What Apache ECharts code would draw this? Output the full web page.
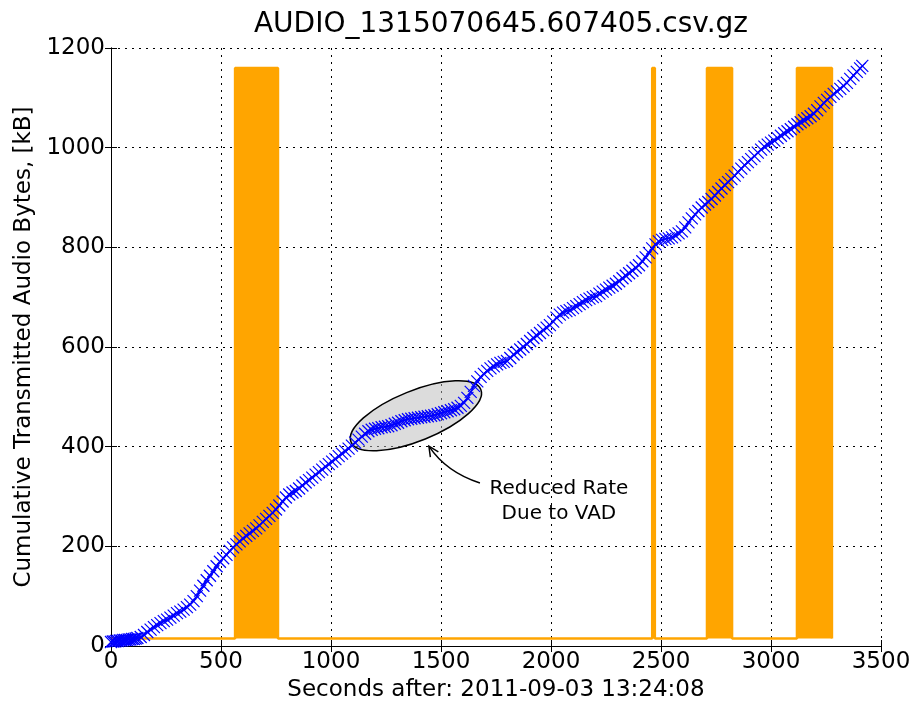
<!DOCTYPE html>
<html>
<head>
<meta charset="utf-8">
<script src="https://cdn.jsdelivr.net/npm/echarts@6/dist/echarts.min.js"></script>
<style>
  html, body { margin: 0; padding: 0; background: #ffffff; }
  #chart { width: 917px; height: 702px; }
</style>
</head>
<body>
<div id="chart"></div>
<script>
// cumulative audio bytes
const sampleSec = [
  0, 8, 16, 24, 32, 40, 48, 56, 64, 72, 80, 88, 96, 104, 112, 120,
  135, 150, 165, 180, 195, 210, 225, 240, 255, 270, 285, 300, 315, 330, 345, 360, 375,
  390, 405, 420, 435, 450, 465, 480, 495,
  510, 525, 540, 555, 570, 585,
  600, 615, 630, 645, 660, 675,
  690, 705, 720, 735, 750, 765,
  780, 795, 810, 825, 840, 855,
  870, 885, 900, 915, 930, 945, 960, 975, 990, 1005, 1020, 1035, 1050, 1065, 1080, 1095, 1110, 1125,
  1140, 1155, 1170, 1185, 1200, 1215, 1230, 1245, 1260, 1275, 1290, 1305, 1320, 1335, 1350, 1365,
  1380, 1395, 1410, 1425, 1440, 1455, 1470, 1485, 1500, 1515, 1530, 1545, 1560, 1575, 1590, 1605,
  1620, 1635, 1650, 1665, 1680,
  1695, 1710, 1725, 1740, 1755, 1770, 1785, 1800, 1815, 1830, 1845, 1860,
  1875, 1890, 1905, 1920, 1935, 1950, 1965, 1980, 1995,
  2010, 2025, 2040, 2055, 2070, 2085, 2100, 2115,
  2130, 2145, 2160, 2175, 2190, 2205,
  2220, 2235, 2250, 2265, 2280, 2295,
  2310, 2325, 2340, 2355, 2370, 2385, 2400,
  2415, 2430, 2445, 2460, 2475,
  2490, 2505, 2520, 2535, 2550, 2565, 2580, 2595,
  2610, 2625, 2640, 2655, 2670, 2685, 2700, 2715, 2730,
  2745, 2760, 2775, 2790, 2805, 2820, 2835, 2850, 2865, 2880, 2895, 2910,
  2925, 2940, 2955, 2970, 2985, 3000, 3015, 3030, 3045, 3060, 3075, 3090,
  3105, 3120, 3135, 3150, 3165, 3180, 3195, 3210, 3225, 3240, 3255, 3270,
  3285, 3300, 3315, 3330, 3345, 3360, 3375, 3390, 3405, 3415
];
const sampleKB = [
  8, 9, 9, 10, 10, 11, 11, 12, 12, 12, 13, 13, 14, 14, 15, 16,
  18, 22, 28, 33, 38, 42, 46, 50, 53, 57, 61, 66, 69, 73, 78, 83, 90,
  100, 111, 121, 132, 141, 150, 160, 169,
  176, 183, 191, 198, 204, 210,
  216, 221, 226, 231, 236, 242,
  249, 255, 261, 267, 274, 282,
  290, 298, 304, 308, 311, 316,
  322, 328, 333, 338, 344, 349, 354, 360, 365, 370, 375, 381, 386, 391, 396, 402, 408, 414,
  420, 426, 431, 434, 436, 437, 439, 440, 441, 443, 446, 448, 451, 453, 455, 456,
  457, 458, 459, 460, 461, 462, 463, 465, 467, 469, 471, 473, 475, 478, 482, 488,
  498, 510, 522, 531, 540,
  546, 552, 557, 561, 565, 568, 570, 572, 578, 585, 590, 595,
  600, 606, 612, 618, 623, 628, 634, 639, 644,
  651, 659, 665, 669, 672, 674, 678, 682,
  686, 690, 694, 697, 700, 702,
  707, 711, 715, 719, 723, 727,
  732, 738, 743, 748, 753, 759, 764,
  772, 780, 789, 798, 806,
  812, 815, 817, 818, 820, 824, 828, 832,
  840, 850, 858, 866, 873, 880, 886, 891, 897,
  904, 911, 918, 925, 931, 937, 944, 951, 958, 965, 971, 977,
  983, 990, 996, 1002, 1006, 1010, 1014, 1019, 1024, 1029, 1033, 1037,
  1042, 1047, 1051, 1055, 1059, 1063, 1068, 1075, 1083, 1090, 1096, 1102,
  1108, 1113, 1118, 1124, 1130, 1138, 1145, 1152, 1159, 1164
];

// VAD active windows (seconds), drawn as orange blocks
const vadStart = [564, 2460, 2709, 3118];
const vadEnd = [759, 2472, 2823, 3277];
const vadLow = 15;
const vadHigh = 1160;

const xTicks = [0, 3500, 500];
const yTicks = [0, 1200, 200];

const FONT = 'DejaVu Sans';

const bytesData = sampleSec.map((s, i) => [s, sampleKB[i]]);

const vadData = [[0, vadLow]];
vadStart.forEach((s, i) => {
    vadData.push([s, vadLow], [s, vadHigh], [vadEnd[i], vadHigh], [vadEnd[i], vadLow]);
});

const chart = echarts.init(document.getElementById('chart'), null, { renderer: 'canvas' });

const frameAxis = {
    type: 'value',
    axisLine: { show: true, lineStyle: { color: '#000', width: 1 } },
    axisTick: { show: true, inside: true, length: 6, lineStyle: { color: '#000' } },
};
const plainNum = v => String(v);

chart.setOption({
    animation: false,
    backgroundColor: '#ffffff',
    title: {
        text: 'AUDIO_1315070645.607405.csv.gz',
        left: 496,
        top: 6,
        textAlign: 'center',
        textStyle: { fontFamily: FONT, fontSize: 28, fontWeight: 'normal', color: '#000' }
    },
    grid: { left: 111, right: 36, top: 48, bottom: 56, outerBoundsMode: 'none', containLabel: false },
    xAxis: [
        {
            ...frameAxis,
            min: xTicks[0], max: xTicks[1], interval: xTicks[2],
            position: 'bottom',
            name: 'Seconds after: 2011-09-03 13:24:08',
            nameLocation: 'middle',
            nameGap: 33,
            nameTextStyle: { fontFamily: FONT, fontSize: 23, color: '#000' },
            axisLabel: { fontFamily: FONT, fontSize: 23, color: '#000', margin: 5, formatter: plainNum },
            splitLine: { show: true, lineStyle: { color: '#000', type: [2, 5], width: 1 } }
        },
        {
            ...frameAxis,
            min: xTicks[0], max: xTicks[1], interval: xTicks[2],
            position: 'top',
            axisLabel: { show: false },
            splitLine: { show: false }
        }
    ],
    yAxis: [
        {
            ...frameAxis,
            min: yTicks[0], max: yTicks[1], interval: yTicks[2],
            position: 'left',
            name: 'Cumulative Transmitted Audio Bytes, [kB]',
            nameLocation: 'middle',
            nameGap: 72,
            nameTextStyle: { fontFamily: FONT, fontSize: 23, color: '#000' },
            axisLabel: { fontFamily: FONT, fontSize: 23, color: '#000', margin: 6, formatter: plainNum },
            splitLine: { show: true, lineStyle: { color: '#000', type: [2, 5], width: 1 } }
        },
        {
            ...frameAxis,
            min: yTicks[0], max: yTicks[1], interval: yTicks[2],
            position: 'right',
            axisLabel: { show: false },
            splitLine: { show: false }
        }
    ],
    series: [
        {
            type: 'line',
            data: vadData,
            showSymbol: false,
            silent: true,
            z: 2,
            lineStyle: { color: '#ffa500', width: 2.5 },
            areaStyle: { color: '#ffa500', opacity: 1, origin: vadLow }
        },
        {
            type: 'line',
            data: bytesData,
            symbol: 'path://M0,0L10,10M10,0L0,10',
            symbolSize: 12,
            showAllSymbol: true,
            silent: true,
            z: 3,
            lineStyle: { color: '#0000ff', width: 1.5 },
            itemStyle: { color: 'rgba(0,0,0,0)', borderColor: '#0000ff', borderWidth: 1.2 }
        }
    ]
});

// annotation: ellipse around the VAD region plus curved arrow and text
const px = (x, y) => chart.convertToPixel({ gridIndex: 0 }, [x, y]);
const c = px(1386, 462);
const tail = px(1677, 327);
const tip = px(1445, 401);
const ctrl = px(1523, 349);
const lbl = px(2036, 291);

const ang = Math.atan2(tip[1] - ctrl[1], tip[0] - ctrl[0]);
const headLen = 11;
const headA = 0.45;
const h1 = [tip[0] - headLen * Math.cos(ang - headA), tip[1] - headLen * Math.sin(ang - headA)];
const h2 = [tip[0] - headLen * Math.cos(ang + headA), tip[1] - headLen * Math.sin(ang + headA)];

chart.setOption({
    graphic: [
        {
            type: 'ellipse',
            x: c[0], y: c[1],
            rotation: 22 * Math.PI / 180,
            shape: { cx: 0, cy: 0, rx: 70, ry: 25 },
            style: { fill: 'rgba(185,185,185,0.5)', stroke: '#000', lineWidth: 1.5 },
            z: 1,
            silent: true
        },
        {
            type: 'bezierCurve',
            shape: { x1: tail[0], y1: tail[1], cpx1: ctrl[0], cpy1: ctrl[1], x2: tip[0], y2: tip[1] },
            style: { stroke: '#000', lineWidth: 1.5, fill: null },
            z: 5,
            silent: true
        },
        {
            type: 'polyline',
            shape: { points: [h1, tip, h2] },
            style: { stroke: '#000', lineWidth: 1.5, fill: null },
            z: 5,
            silent: true
        },
        {
            type: 'text',
            x: lbl[0], y: lbl[1],
            style: {
                text: 'Reduced Rate\nDue to VAD',
                font: '20px "DejaVu Sans"',
                textAlign: 'center',
                textVerticalAlign: 'middle',
                lineHeight: 25,
                fill: '#000'
            },
            z: 5,
            silent: true
        }
    ]
});
</script>
</body>
</html>
